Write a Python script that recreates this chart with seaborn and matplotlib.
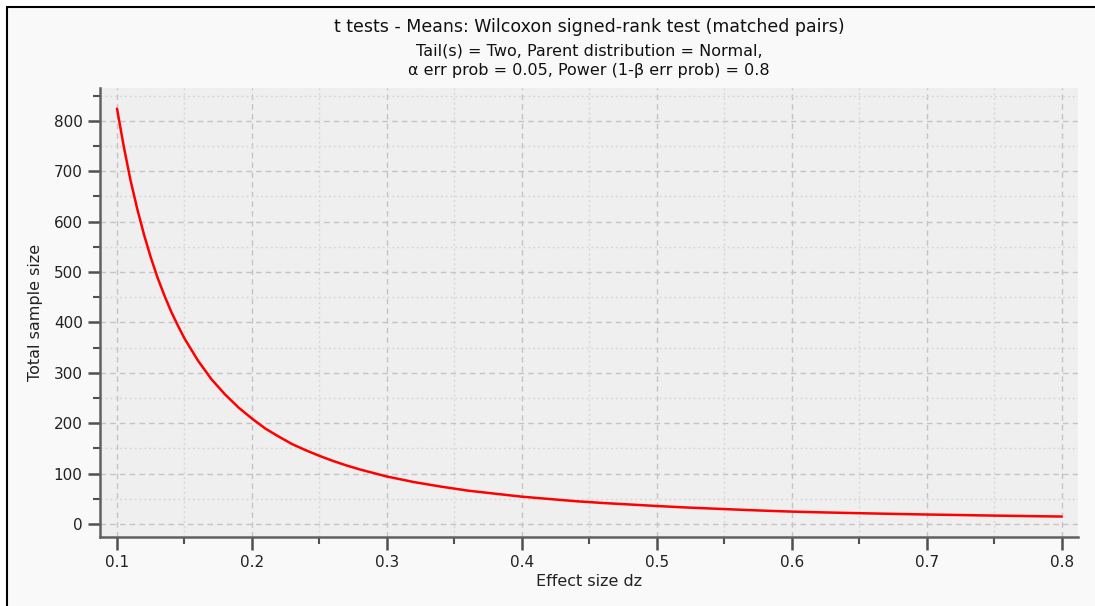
import numpy as np
import pandas as pd
import matplotlib
matplotlib.use("Agg")
import matplotlib.pyplot as plt
import seaborn as sns
from matplotlib.ticker import MultipleLocator
from matplotlib.patches import Rectangle
from matplotlib.lines import Line2D

effect_size = [0.100, 0.105, 0.110, 0.115, 0.120, 0.125, 0.130, 0.135, 0.140, 0.145,
               0.150, 0.16, 0.17, 0.18, 0.19, 0.20, 0.21, 0.22, 0.23, 0.24,
               0.25, 0.26, 0.27, 0.28, 0.29, 0.30, 0.32, 0.34, 0.36, 0.38,
               0.40, 0.42, 0.44, 0.46, 0.48, 0.50, 0.52, 0.54, 0.56, 0.58,
               0.60, 0.62, 0.64, 0.66, 0.68, 0.70, 0.72, 0.74, 0.76, 0.78, 0.80]
total_n = [824, 749, 682, 625, 574, 529, 489, 454, 422, 394,
           368, 324, 287, 257, 231, 209, 189, 173, 158, 146,
           135, 125, 116, 108, 101, 94, 83, 74, 66, 60,
           54, 49.5, 45, 41.5, 38.5, 35.5, 32.8, 30.5, 28.3, 26.2,
           24.4, 23.0, 21.8, 20.7, 19.6, 18.6, 17.8, 16.9, 16.1, 15.3, 14.6]

title1 = "t tests - Means: Wilcoxon signed-rank test (matched pairs)"
title2 = "Tail(s) = Two, Parent distribution = Normal,"
title3 = "α err prob = 0.05, Power (1-β err prob) = 0.8"

sns.set_theme(style="white")
plt.rcParams['font.family'] = ['DejaVu Sans']

W, H = 1095, 606
fig = plt.figure(figsize=(W/100, H/100), dpi=100, facecolor="white")
fig.patches.append(Rectangle((7/W, 0), 1 - 7/W, (H-7)/H, transform=fig.transFigure,
                             facecolor="#f9f9f9", edgecolor="none", zorder=-10))
fig.lines.append(Line2D([7/W, 1], [(H-7)/H, (H-7)/H], transform=fig.transFigure,
                        color="black", linewidth=1.5))
fig.lines.append(Line2D([7/W, 7/W], [0, (H-7)/H], transform=fig.transFigure,
                        color="black", linewidth=1.5))

ax = fig.add_axes([100/W, (H-537)/H, (1078-100)/W, (537-88)/H])
ax.set_facecolor("#efefef")
df = pd.DataFrame({"dz": effect_size, "n": total_n})
sns.lineplot(data=df, x="dz", y="n", ax=ax, color="#ff0000", linewidth=1.8)

ax.set_xlim(0.0874, 0.812)
ax.set_ylim(-26, 865)
ax.xaxis.set_major_locator(MultipleLocator(0.1))
ax.xaxis.set_minor_locator(MultipleLocator(0.05))
ax.yaxis.set_major_locator(MultipleLocator(100))
ax.yaxis.set_minor_locator(MultipleLocator(50))
ax.set_xticklabels([f"{v:g}" for v in ax.get_xticks()])

ax.grid(which="major", color="#c4c4c4", linestyle=(0, (4, 3)), linewidth=1.0)
ax.grid(which="minor", color="#d8d8d8", linestyle=(0, (1.5, 2)), linewidth=1.0)
ax.set_axisbelow(True)

for s in ["top", "right"]:
    ax.spines[s].set_visible(False)
for s in ["left", "bottom"]:
    ax.spines[s].set_color("#606060")
    ax.spines[s].set_linewidth(1.8)

ax.tick_params(which="major", direction="out", length=9, width=1.8, color="#505050",
               labelsize=11, labelcolor="#222222", left=True, bottom=True)
ax.tick_params(which="minor", direction="out", length=5, width=1.5, color="#505050",
               left=True, bottom=True)
ax.tick_params(axis="x", which="major", pad=4)

ax.set_xlabel("Effect size dz", fontsize=11.5, color="#222222", labelpad=3)
ax.set_ylabel("Total sample size", fontsize=11.5, color="#222222", labelpad=8)

cx = (100 + 1078) / 2 / W
fig.text(cx, 1 - 27/H, title1, ha="center", va="center", fontsize=12.5, color="#111111")
fig.text(cx, 1 - 51/H, title2, ha="center", va="center", fontsize=11.5, color="#111111")
fig.text(cx, 1 - 71/H, title3, ha="center", va="center", fontsize=11.5, color="#111111")

fig.savefig("out.png", dpi=100, facecolor=fig.get_facecolor())
